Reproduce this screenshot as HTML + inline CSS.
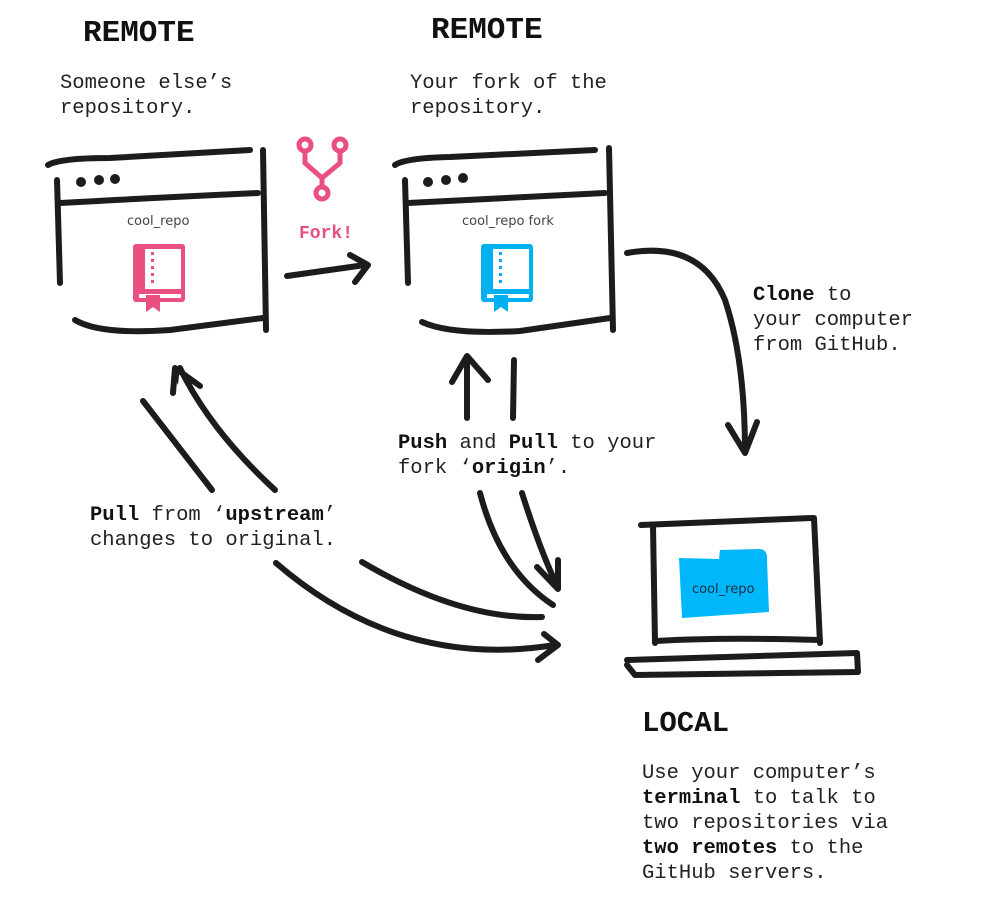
<!DOCTYPE html>
<html><head><meta charset="utf-8"><style>
html,body{margin:0;padding:0;background:#fff;}
svg{display:block;}
.m{font-family:"Liberation Mono",monospace;font-size:20.5px;fill:#222;}
.b{font-weight:bold;fill:#111;}
.h{font-family:"Liberation Mono",monospace;font-weight:bold;font-size:31px;fill:#111;}
.s{font-family:"DejaVu Sans","Liberation Sans",sans-serif;font-size:13px;fill:#444;}
.k{fill:none;stroke:#1c1c1c;stroke-width:6;stroke-linecap:round;stroke-linejoin:round;}
</style></head><body>
<svg width="1005" height="900" viewBox="0 0 1005 900" xmlns="http://www.w3.org/2000/svg">
<text class="h" x="83" y="41">REMOTE</text>
<text class="h" x="431" y="38">REMOTE</text>
<text class="m" x="60" y="88">Someone else’s</text>
<text class="m" x="60" y="113">repository.</text>
<text class="m" x="410" y="88">Your fork of the</text>
<text class="m" x="410" y="113">repository.</text>

<!-- left window -->
<path class="k" d="M48 165 Q60 158 110 158 L250 150"/>
<path class="k" d="M263 150 L266 330"/>
<path class="k" d="M57 180 L60 283"/>
<path class="k" d="M60 203 Q150 198 258 193"/>
<path class="k" d="M75 320 Q100 335 170 330 L263 318"/>
<circle cx="81" cy="182" r="5" fill="#1c1c1c"/><circle cx="99" cy="180" r="5" fill="#1c1c1c"/><circle cx="115" cy="179" r="5" fill="#1c1c1c"/>
<text class="s" x="127" y="225">cool_repo</text>
<g fill="#e94f7f">
<rect x="133" y="244" width="52" height="58" rx="3"/>
<rect x="139" y="249" width="42" height="40" fill="#fff"/>
<rect x="139" y="249" width="6" height="40"/>
<rect x="151" y="252" width="3" height="3"/><rect x="151" y="259" width="3" height="3"/><rect x="151" y="266" width="3" height="3"/><rect x="151" y="273" width="3" height="3"/><rect x="151" y="280" width="3" height="3"/>
<rect x="139" y="294" width="42" height="4" fill="#fff"/>
<path d="M146 295 L160 295 L160 312 L153 307 L146 312 Z"/>
</g>

<!-- fork icon -->
<g fill="none" stroke="#e94f7f" stroke-width="5">
<circle cx="305" cy="145" r="6"/><circle cx="340" cy="145" r="6"/><circle cx="322" cy="193" r="6"/>
<path d="M305 151 L305 163 L322 178 L322 187 M340 151 L340 163 L322 178"/>
</g>
<text x="299" y="238" font-family="Liberation Mono,monospace" font-weight="bold" font-size="18" fill="#e94f7f">Fork!</text>
<path class="k" d="M287 276 L365 265 M350 255 L368 265 L355 282"/>

<!-- right window -->
<path class="k" d="M395 165 Q405 158 450 157 L595 150"/>
<path class="k" d="M609 148 L613 330"/>
<path class="k" d="M405 180 L408 283"/>
<path class="k" d="M408 203 Q500 198 605 193"/>
<path class="k" d="M422 322 Q450 335 520 331 L610 318"/>
<circle cx="428" cy="182" r="5" fill="#1c1c1c"/><circle cx="446" cy="180" r="5" fill="#1c1c1c"/><circle cx="463" cy="178" r="5" fill="#1c1c1c"/>
<text class="s" x="462" y="225">cool_repo fork</text>
<g fill="#00b0f0">
<rect x="481" y="244" width="52" height="58" rx="3"/>
<rect x="487" y="249" width="42" height="40" fill="#fff"/>
<rect x="487" y="249" width="6" height="40"/>
<rect x="499" y="252" width="3" height="3"/><rect x="499" y="259" width="3" height="3"/><rect x="499" y="266" width="3" height="3"/><rect x="499" y="273" width="3" height="3"/><rect x="499" y="280" width="3" height="3"/>
<rect x="487" y="294" width="42" height="4" fill="#fff"/>
<path d="M494 295 L508 295 L508 312 L501 307 L494 312 Z"/>
</g>

<!-- clone arrow -->
<path class="k" d="M627 253 Q700 240 725 300 Q745 360 745 452 M728 425 L745 453 L757 422"/>
<text class="m" x="753" y="300"><tspan class="b">Clone</tspan> to</text>
<text class="m" x="753" y="325">your computer</text>
<text class="m" x="753" y="350">from GitHub.</text>

<!-- push/pull -->
<path class="k" d="M467 418 L467 357 M452 382 L467 356 L488 380"/>
<path class="k" d="M514 360 L513 418"/>
<text class="m" x="398" y="448"><tspan class="b">Push</tspan> and <tspan class="b">Pull</tspan> to your</text>
<text class="m" x="398" y="473">fork ‘<tspan class="b">origin</tspan>’.</text>
<path class="k" d="M480 493 Q500 570 553 605"/>
<path class="k" d="M522 493 Q540 550 558 588 M537 567 L558 589 L558 560"/>

<!-- upstream -->
<path class="k" d="M143 401 L212 490"/>
<path class="k" d="M275 490 Q210 430 180 368 M173 393 L175 368 L200 386"/>
<path d="M172 372 L180 366 L178 385 Z" fill="#1c1c1c"/>
<text class="m" x="90" y="520"><tspan class="b">Pull</tspan> from ‘<tspan class="b">upstream</tspan>’</text>
<text class="m" x="90" y="545">changes to original.</text>
<path class="k" d="M276 563 Q400 670 555 645 M538 660 L558 645 L544 634"/>
<path class="k" d="M362 562 Q460 620 542 617"/>

<!-- laptop -->
<path class="k" d="M641 525 L812 518"/>
<path class="k" d="M653 526 L655 643"/>
<path class="k" d="M814 518 L820 643"/>
<path class="k" d="M656 641 Q720 637 820 640"/>
<path class="k" d="M627 660 L857 653 L858 672 L635 675 L627 665"/>
<path d="M679 558 L719 559 L720 550 L760 549 Q768 550 767 560 L769 612 L682 618 Z" fill="#00b7fb"/>
<text class="s" x="692" y="593" fill="#1a3040" style="fill:#1a3040">cool_repo</text>

<text class="h" x="642" y="731" style="font-size:29px">LOCAL</text>
<text class="m" x="642" y="778">Use your computer’s</text>
<text class="m" x="642" y="803"><tspan class="b">terminal</tspan> to talk to</text>
<text class="m" x="642" y="828">two repositories via</text>
<text class="m" x="642" y="853"><tspan class="b">two remotes</tspan> to the</text>
<text class="m" x="642" y="878">GitHub servers.</text>
</svg>
</body></html>
